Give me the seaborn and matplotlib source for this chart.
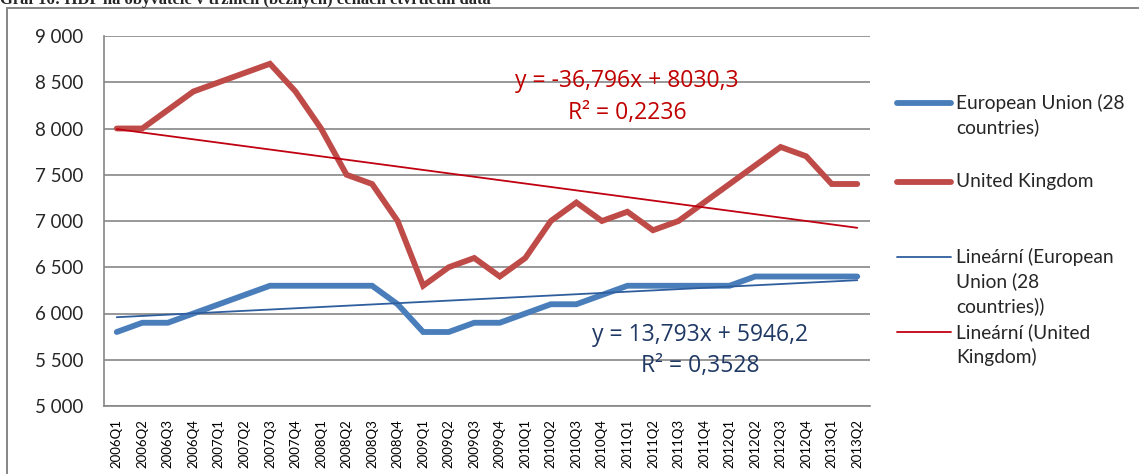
import numpy as np
import pandas as pd
import matplotlib.pyplot as plt
import seaborn as sns
from matplotlib.lines import Line2D
from matplotlib.patches import Rectangle
from matplotlib.ticker import FuncFormatter, MultipleLocator

# quarters shown on the x axis
quarters = ['2006Q1', '2006Q2', '2006Q3', '2006Q4', '2007Q1', '2007Q2', '2007Q3', '2007Q4',
            '2008Q1', '2008Q2', '2008Q3', '2008Q4', '2009Q1', '2009Q2', '2009Q3', '2009Q4',
            '2010Q1', '2010Q2', '2010Q3', '2010Q4', '2011Q1', '2011Q2', '2011Q3', '2011Q4',
            '2012Q1', '2012Q2', '2012Q3', '2012Q4', '2013Q1', '2013Q2']

# GDP per capita
eu_values = [5800, 5900, 5900, 6000, 6100, 6200, 6300, 6300, 6300, 6300, 6300, 6100,
             5800, 5800, 5900, 5900, 6000, 6100, 6100, 6200, 6300, 6300, 6300, 6300,
             6300, 6400, 6400, 6400, 6400, 6400]
uk_values = [8000, 8000, 8200, 8400, 8500, 8600, 8700, 8400, 8000, 7500, 7400, 7000,
             6300, 6500, 6600, 6400, 6600, 7000, 7200, 7000, 7100, 6900, 7000, 7200,
             7400, 7600, 7800, 7700, 7400, 7400]

# linear trends as printed on the chart (x = 1..30)
eu_trend = (13.793, 5946.2, 0.3528)
uk_trend = (-36.796, 8030.3, 0.2236)

eu_name = 'European Union (28 countries)'
uk_name = 'United Kingdom'

c_eu, c_uk = '#4A7EBB', '#BE4B48'
c_eu_tr, c_uk_tr = '#2F5E9E', '#C00010'
grid_c = '#868686'

df = pd.DataFrame({
    'pos': list(range(len(quarters))) * 2,
    'value': eu_values + uk_values,
    'country': [eu_name] * len(quarters) + [uk_name] * len(quarters),
})

sns.set_style('white')
plt.rcParams['font.family'] = ['Lato', 'DejaVu Sans']

W, H = 1139, 474
fig = plt.figure(figsize=(W / 100, H / 100), dpi=100)
ax = fig.add_axes([104 / W, 1 - 406 / H, (870 - 104) / W, (406 - 36) / H])

# grid + axes
ax.set_ylim(5000, 9000)
ax.set_xlim(-0.5, len(quarters) - 0.5)
ax.yaxis.set_major_locator(MultipleLocator(500))
ax.yaxis.set_major_formatter(FuncFormatter(lambda v, p: f'{int(v):,}'.replace(',', ' ')))
ax.grid(axis='y', color=grid_c, lw=1.2)
ax.set_axisbelow(True)
for s in ['top', 'right']:
    ax.spines[s].set_visible(False)
for s in ['left', 'bottom']:
    ax.spines[s].set_color(grid_c)
    ax.spines[s].set_linewidth(1.2)

sns.lineplot(data=df, x='pos', y='value', hue='country', palette=[c_eu, c_uk],
             linewidth=4.2, legend=False, ax=ax, solid_capstyle='round', solid_joinstyle='miter')

# trend lines
xs = np.arange(1, len(quarters) + 1)
ax.plot(xs - 1, eu_trend[0] * xs + eu_trend[1], color=c_eu_tr, lw=1.3)
ax.plot(xs - 1, uk_trend[0] * xs + uk_trend[1], color=c_uk_tr, lw=1.3)

ax.set_xticks(range(len(quarters)))
ax.set_xticklabels(quarters, rotation=90, fontsize=9.5, color='black')
ax.set_xticks(np.arange(-0.5, len(quarters)), minor=True)
ax.tick_params(axis='x', which='major', length=0, pad=9.5)
ax.tick_params(axis='x', which='minor', length=4, color=grid_c, width=1.2, direction='out')
ax.tick_params(axis='y', length=5, color=grid_c, width=1.2, pad=10, labelsize=13.5, direction='out')
ax.set_xlabel('')
ax.set_ylabel('')

# trend equations
def fmt(v, d):
    return f'{v:.{d}f}'.replace('.', ',')

eq_font = ['Open Sans', 'DejaVu Sans']
eq_size = 16.5
ax.text(0.683, 0.878, f'y = {fmt(uk_trend[0], 3)}x + {fmt(uk_trend[1], 1)}', transform=ax.transAxes,
        ha='center', va='center', fontsize=eq_size, color='#C00000', family=eq_font)
ax.text(0.683, 0.793, f'R² = {fmt(uk_trend[2], 4)}', transform=ax.transAxes,
        ha='center', va='center', fontsize=eq_size, color='#C00000', family=eq_font)
ax.text(0.778, 0.192, f'y = {fmt(eu_trend[0], 3)}x + {fmt(eu_trend[1], 1)}', transform=ax.transAxes,
        ha='center', va='center', fontsize=eq_size, color='#1F3864', family=eq_font)
ax.text(0.778, 0.108, f'R² = {fmt(eu_trend[2], 4)}', transform=ax.transAxes,
        ha='center', va='center', fontsize=eq_size, color='#1F3864', family=eq_font)

# legend, built by hand so handles line up with the first label line
entries = [
    (103, c_eu, 4.2, ['European Union (28', 'countries)']),
    (182, c_uk, 4.2, ['United Kingdom']),
    (257, c_eu_tr, 1.3, ['Lineární (European', 'Union (28', 'countries))']),
    (332, c_uk_tr, 1.3, ['Lineární (United', 'Kingdom)']),
]
for y, col, lw, lines in entries:
    fy = 1 - y / H
    fig.add_artist(Line2D([897 / W, 951 / W], [fy, fy], color=col, lw=lw, solid_capstyle='round'))
    for i, t in enumerate(lines):
        fig.text(956 / W, 1 - (y + i * 24.5) / H, t, ha='left', va='center', fontsize=13.8)

# outer chart frame and the title, clipped at the top as in the source
fig.add_artist(Rectangle((7 / W, -0.2), 2, 1.2 - 8 / H, fill=False, edgecolor=grid_c, lw=1.4,
                         transform=fig.transFigure))
fig.text(0.0, 1 - 4 / H, 'Graf 16: HDP na obyvatele v tržních (běžných) cenách čtvrtletní data',
         ha='left', va='baseline', fontsize=12, fontweight='bold', family='Liberation Serif')

fig.savefig('out.png', dpi=100)
